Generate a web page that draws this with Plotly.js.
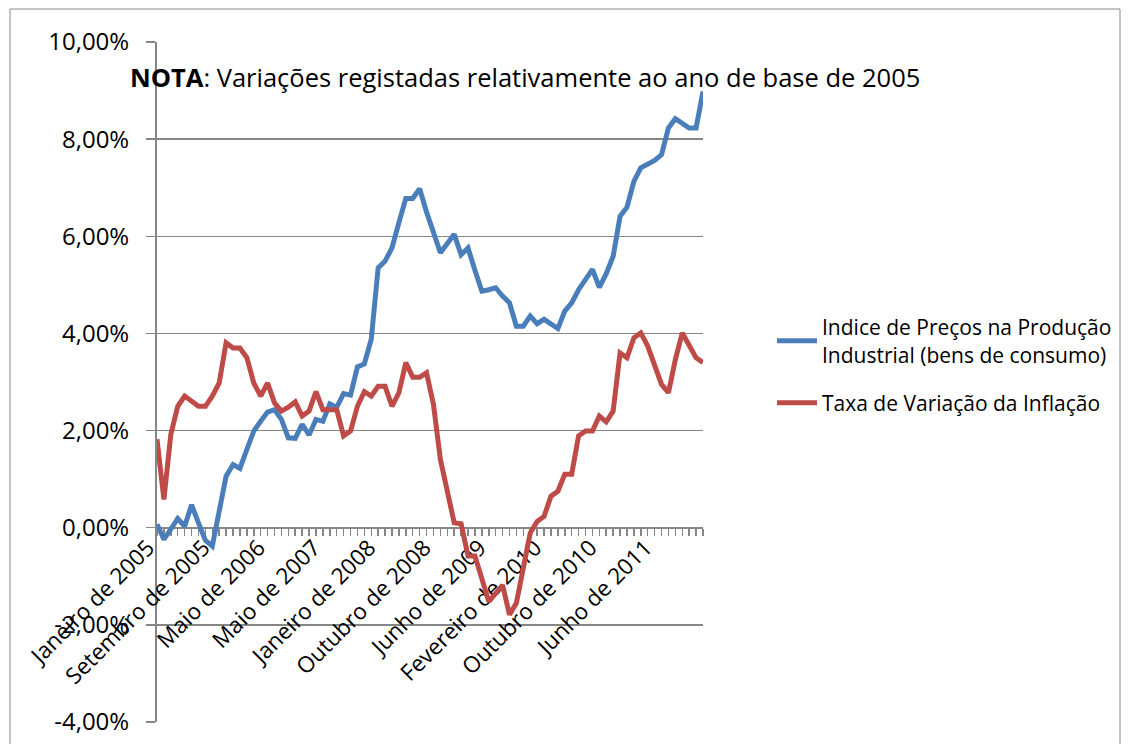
<!DOCTYPE html>
<html>
<head>
<meta charset="utf-8">
<script src="https://cdn.plot.ly/plotly-3.0.1.min.js"></script>
<style>
  html, body { margin: 0; padding: 0; background: #ffffff; }
  #chart { width: 1130px; height: 744px; }
</style>
</head>
<body>
<div id="chart"></div>
<script>
// Series values (percent), one per month-period
const ipp = [
  0.07, -0.24, -0.03, 0.19, 0.03, 0.47, 0.10, -0.26, -0.38, 0.34,
  1.06, 1.30, 1.22, 1.61, 1.99, 2.19, 2.38, 2.43, 2.23, 1.85,
  1.84, 2.13, 1.91, 2.23, 2.19, 2.55, 2.48, 2.76, 2.73, 3.31,
  3.37, 3.88, 5.35, 5.49, 5.76, 6.28, 6.78, 6.78, 6.98, 6.50,
  6.04, 5.66, 5.85, 6.04, 5.62, 5.76, 5.30, 4.87, 4.90, 4.94,
  4.77, 4.63, 4.15, 4.15, 4.36, 4.20, 4.29, 4.20, 4.10, 4.46,
  4.63, 4.90, 5.09, 5.32, 4.95, 5.23, 5.59, 6.41, 6.60, 7.13,
  7.41, 7.48, 7.56, 7.68, 8.23, 8.42, 8.31, 8.23, 8.23, 8.98
];
const inflacao = [
  1.82, 0.58, 1.92, 2.50, 2.71, 2.62, 2.50, 2.50, 2.71, 2.98,
  3.81, 3.70, 3.70, 3.50, 2.98, 2.71, 2.98, 2.57, 2.40, 2.48,
  2.59, 2.30, 2.40, 2.80, 2.43, 2.43, 2.43, 1.89, 1.99, 2.50,
  2.80, 2.71, 2.91, 2.91, 2.50, 2.78, 3.40, 3.10, 3.10, 3.19,
  2.54, 1.41, 0.79, 0.10, 0.08, -0.58, -0.58, -1.05, -1.52, -1.35,
  -1.18, -1.79, -1.55, -0.83, -0.11, 0.13, 0.23, 0.65, 0.75, 1.10,
  1.10, 1.89, 1.99, 1.99, 2.30, 2.18, 2.40, 3.60, 3.50, 3.91,
  4.01, 3.74, 3.33, 2.95, 2.78, 3.46, 4.01, 3.77, 3.50, 3.40
];
// Category positions (period index) and the labels shown for them
const periods = ipp.map((_, i) => i);
const labelPositions = [0, 8, 16, 24, 32, 40, 48, 56, 64, 72];
const labelTexts = [
  'Janeiro de 2005', 'Setembro de 2005', 'Maio de 2006', 'Maio de 2007',
  'Janeiro de 2008', 'Outubro de 2008', 'Junho de 2009', 'Fevereiro de 2010',
  'Outubro de 2010', 'Junho de 2011'
];
const yTickValues = [-4, -2, 0, 2, 4, 6, 8, 10];
const yTickTexts = ['-4,00%', '-2,00%', '0,00%', '2,00%', '4,00%', '6,00%', '8,00%', '10,00%'];
const seriesNames = [
  'Indice de Preços na Produção<br>Industrial (bens de consumo)',
  'Taxa de Variação da Inflação'
];
const noteText = '<b>NOTA</b>: Variações registadas relativamente ao ano de base de 2005';

const FONT = 'Open Sans, Noto Sans, sans-serif';
const W = 1130, H = 744;
const L = 157, R = 703, T = 42, B = 722;
const px2x = (px) => (px - L) / (R - L);
const px2y = (py) => (B - py) / (B - T);

const traces = [
  {
    x: periods, y: ipp, type: 'scatter', mode: 'lines', name: seriesNames[0],
    line: { color: '#4A7EBB', width: 5 }, legendgroup: 'a'
  },
  {
    x: periods, y: inflacao, type: 'scatter', mode: 'lines', name: seriesNames[1],
    line: { color: '#BE4B48', width: 5 }, legendgroup: 'b'
  }
];

const layout = {
  width: W, height: H,
  margin: { l: L, r: W - R, t: T, b: H - B, pad: 0 },
  paper_bgcolor: '#ffffff', plot_bgcolor: '#ffffff',
  font: { family: FONT, color: '#000000', size: 20 },
  showlegend: true,
  xaxis: {
    range: [0, periods.length - 1],
    anchor: 'free', position: 4 / 14,
    showgrid: false, zeroline: false,
    showline: true, linecolor: '#868686', linewidth: 2,
    ticks: 'outside', ticklen: 7, tickcolor: '#868686', tickwidth: 1.5,
    tickmode: 'array', tickvals: labelPositions, ticktext: labelTexts,
    tickangle: -45,
    ticklabelshift: -9, ticklabelstandoff: -10,
    tickfont: { family: FONT, size: 22.5, color: '#000000' },
    minor: { tickmode: 'linear', tick0: 0, dtick: 1, ticks: 'outside', ticklen: 7, tickcolor: '#868686', tickwidth: 1.5, showgrid: false },
    layer: 'below traces', fixedrange: true
  },
  yaxis: {
    range: [-4, 10], anchor: 'x',
    tickmode: 'array', tickvals: yTickValues, ticktext: yTickTexts,
    showgrid: true, gridcolor: '#868686', gridwidth: 1.5,
    zeroline: false,
    showline: true, linecolor: '#868686', linewidth: 2,
    ticks: 'outside', ticklen: 9, tickcolor: '#868686', tickwidth: 1.5,
    ticklabelstandoff: 12,
    tickfont: { family: FONT, size: 24, color: '#000000' },
    layer: 'below traces', fixedrange: true
  },
  legend: {
    x: px2x(772), xanchor: 'left', y: px2y(307), yanchor: 'top',
    bgcolor: 'rgba(0,0,0,0)', borderwidth: 0,
    font: { family: FONT, size: 21, color: '#000000' },
    tracegroupgap: 18, itemwidth: 40
  },
  annotations: [
    {
      text: noteText, showarrow: false,
      xref: 'paper', yref: 'paper',
      x: px2x(128), xanchor: 'left', y: px2y(77), yanchor: 'middle',
      font: { family: FONT, size: 25.5, color: '#000000' }
    }
  ],
  shapes: [
    {
      type: 'rect', xref: 'paper', yref: 'paper',
      x0: px2x(10), x1: px2x(1120), y0: px2y(770), y1: px2y(9),
      line: { color: '#888888', width: 1 }, fillcolor: 'rgba(0,0,0,0)', layer: 'below'
    }
  ]
};

Plotly.newPlot('chart', traces, layout, { displayModeBar: false, staticPlot: true });
</script>
</body>
</html>
